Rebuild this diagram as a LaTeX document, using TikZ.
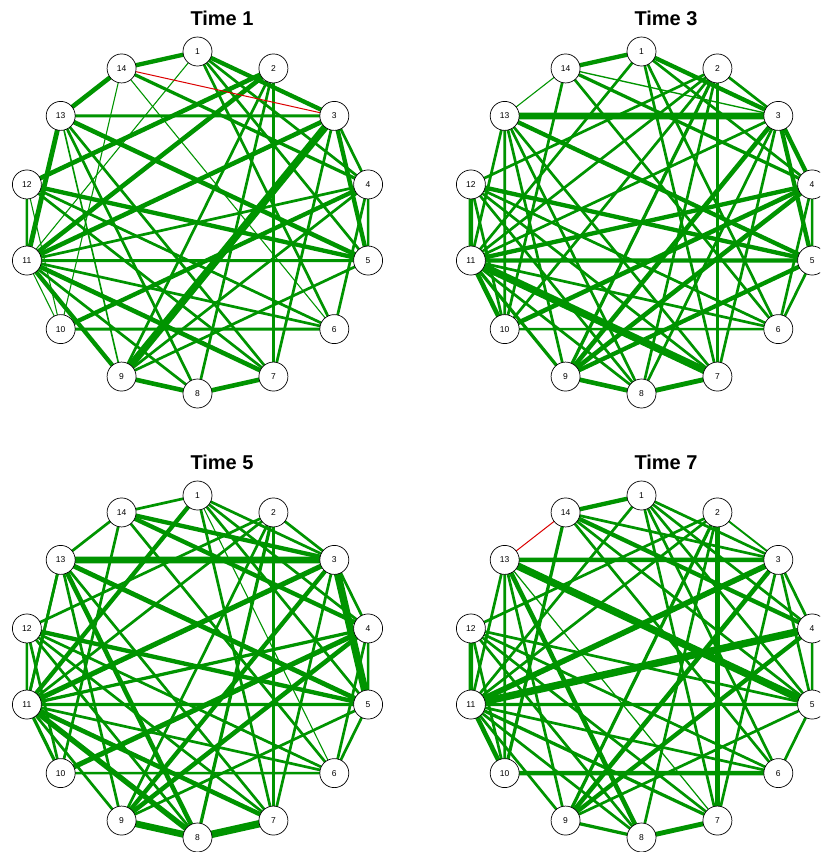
\documentclass[tikz,border=0pt]{standalone}
\usepackage{fontspec}
\setmainfont{Liberation Sans}
\definecolor{eg}{RGB}{0,148,0}
\definecolor{er}{RGB}{220,0,0}
\pgfdeclarelayer{bg}\pgfsetlayers{bg,main}
\newcommand\drawpanel[5]{%
  \node[ttl] (#3t) at (#1+222,#2+18) {#4};
  \foreach \k in {1,...,14}{%
    \node[vtx] (#3\k) at ({#1+197.5+175*cos(90-(\k-1)*360/14)},{#2+222.5-171*sin(90-(\k-1)*360/14)}) {\k};
  }
  \begin{pgfonlayer}{bg}
  \foreach \a/\b/\w in {#5}{%
    \pgfmathsetmacro\lw{\w*1.35}
    \draw[edge,line width=\lw pt] (#3\a.center) -- (#3\b.center);
  }
  \end{pgfonlayer}
}
\begin{document}
\begin{tikzpicture}[x=1pt,y=-1pt,
  vtx/.style={circle,draw=black,line width=0.7pt,fill=white,minimum size=29pt,inner sep=0pt,font=\fontsize{8.5}{9}\selectfont},
  ttl/.style={font=\fontsize{20}{22}\selectfont\bfseries},
  edge/.style={draw=eg},
  redge/.style={draw=er,line width=1pt}]
\useasboundingbox (0,0) rectangle (820,852);
\clip (0,0) rectangle (820,852);
\begin{pgfonlayer}{bg}\fill[white] (0,0) rectangle (820,852);\end{pgfonlayer}
% Time 1
\drawpanel{0}{0}{A}{Time 1}{1/14/3.2,1/3/3.2,1/4/2,1/5/2,1/6/2,1/11/0.8,
2/12/3.4,2/11/3.4,2/9/2,2/8/2,2/7/1.6,
3/13/2.2,3/9/5.5,3/11/3.4,3/4/2,3/5/3.2,3/7/2,
4/11/2,4/10/3.2,4/9/2,4/6/2,4/5/2,14/4/2.4,
5/11/2.2,5/12/3.2,5/13/3.4,5/9/2,
6/10/2.2,6/12/2,6/14/0.8,6/11/2,
7/8/3.4,7/11/3.4,7/12/2,7/13/2,
8/9/3.4,8/11/2,8/13/2,
9/11/3.2,9/13/1.2,10/12/0.8,10/11/0.8,11/12/2,11/13/3.6,13/14/3.4,10/14/0.8}
\begin{pgfonlayer}{bg}\draw[redge] (A14.center) -- (A3.center);\end{pgfonlayer}
% Time 3
\drawpanel{444}{0}{B}{Time 3}{1/14/3.2,1/3/3.2,1/4/2,1/6/2,1/7/2,1/11/2,
14/13/0.8,14/3/1,14/4/2.4,14/10/2,14/6/2,
13/3/5,13/5/3.2,13/11/2,13/10/2,13/9/2,13/8/2,13/7/2,
2/3/2,2/11/2,2/12/2,2/9/2.4,2/8/2,2/7/2,2/10/2,
3/11/2,3/9/3.4,3/4/3.2,3/5/3.2,3/7/2,3/8/2,
4/11/3.2,4/9/3.4,4/10/3.4,4/6/2,4/5/2,
5/11/3.2,5/12/3.2,5/9/3.2,5/6/2,
6/10/2,6/11/2,6/12/2,
7/8/3.6,7/11/5.5,7/12/2,
8/9/3.4,8/11/2,8/12/2,
9/11/2.4,10/11/3.4,10/12/2,11/12/3.2}
% Time 5
\drawpanel{0}{444}{C}{Time 5}{1/14/2,1/3/2,1/4/2,1/5/2,1/6/0.8,1/7/2,1/11/3.2,
14/13/2,14/3/3.2,14/4/3.2,14/10/2,14/6/2,
13/3/5,13/5/3.6,13/11/2,13/9/2,13/8/3.4,13/7/2,
2/3/2,2/12/2,2/11/2,2/9/2,2/8/2.4,2/7/2,
3/11/3.8,3/9/3.2,3/4/2,3/5/5.5,3/7/2,
4/11/2.4,4/9/3.4,4/10/3.8,4/5/2,4/6/2,
5/11/2.4,5/12/3.2,5/9/2,5/6/2,
6/10/2,6/11/2,6/12/2,
7/8/5.5,7/11/3.4,7/12/2,
8/9/5,8/11/4,8/12/2,
9/11/2,10/11/2.4,10/12/2,11/12/2,11/13/2}
% Time 7
\drawpanel{444}{444}{D}{Time 7}{1/14/3.2,1/3/2,1/4/2,1/5/2,1/6/2,1/7/2,1/11/2,
14/3/2,14/4/3.2,14/5/2,14/10/2.4,14/6/2,
13/3/3.2,13/5/5.5,13/11/2,13/10/2,13/9/2,13/8/3.4,13/7/0.9,
2/3/1.4,2/12/2,2/11/2,2/9/2.4,2/8/2,2/7/3.6,
3/11/4.2,3/9/3.4,3/4/2,3/5/2,3/7/2,
4/11/5.5,4/9/3.2,4/5/2,
5/11/2.4,5/12/2,5/9/2,5/6/2,
6/10/3.2,6/11/2,6/12/2,
7/8/3.6,7/11/2.4,7/12/2,
8/9/2.4,8/11/2,8/12/2,
9/11/2,10/11/3.4,10/12/2,11/12/3.2}
\begin{pgfonlayer}{bg}\draw[redge] (D14.center) -- (D13.center);\end{pgfonlayer}
\end{tikzpicture}
\end{document}
